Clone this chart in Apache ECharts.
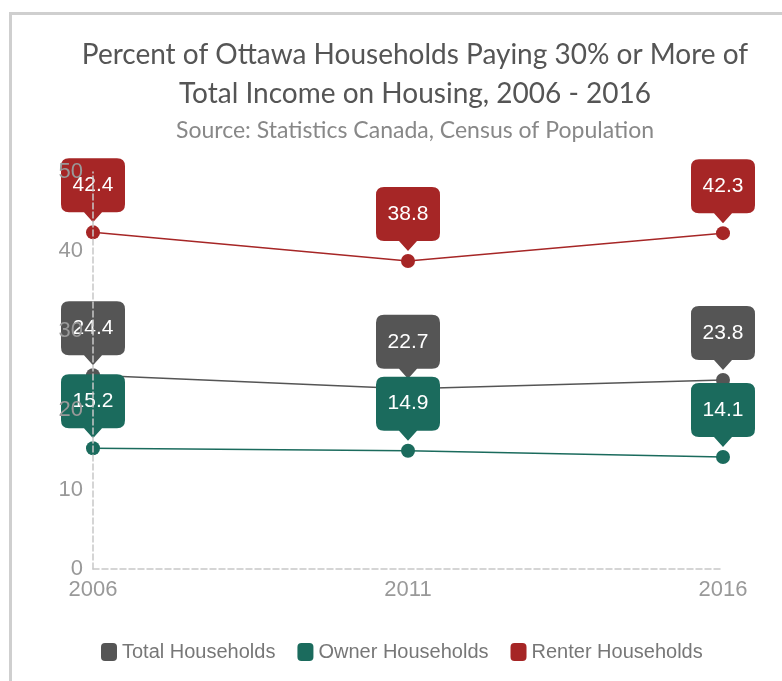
<!DOCTYPE html>
<html>
<head>
<meta charset="utf-8">
<script src="https://cdn.jsdelivr.net/npm/echarts@6/dist/echarts.min.js"></script>
<style>
html,body{margin:0;padding:0;background:#fff;overflow:hidden;width:782px;height:681px;}
#chart{position:absolute;left:9px;top:12px;width:806px;height:700px;border:3px solid #cfcfcf;background:#fff;}
</style>
</head>
<body>
<div id="chart"></div>
<script>
var years = ['2006', '2011', '2016'];
var totalHouseholds = [24.4, 22.7, 23.8];
var ownerHouseholds = [15.2, 14.9, 14.1];
var renterHouseholds = [42.4, 38.8, 42.3];
var seriesNames = ['Total Households', 'Owner Households', 'Renter Households'];
var seriesColors = ['#555555', '#1b6b5d', '#a62626'];
var yTicks = {min: 0, max: 50, interval: 10};

var calloutPath = 'path://M8,0 H56 Q64,0 64,8 V46 Q64,54 56,54 H41 L32,64 L23,54 H8 Q0,54 0,46 V8 Q0,0 8,0 Z';
var dataSets = [totalHouseholds, ownerHouseholds, renterHouseholds];

var series = [];
dataSets.forEach(function (d, i) {
  series.push({
    name: seriesNames[i], type: 'line', data: d, z: 2,
    symbol: 'circle', symbolSize: 14,
    itemStyle: {color: seriesColors[i]},
    lineStyle: {color: seriesColors[i], width: 1.5},
    label: {show: false}, emphasis: {disabled: true}
  });
});
dataSets.forEach(function (d, i) {
  series.push({
    name: seriesNames[i], type: 'scatter', data: d, z: 3 + i,
    symbol: calloutPath, symbolSize: [64, 64], symbolOffset: [0, -42],
    itemStyle: {color: seriesColors[i], opacity: 1},
    label: {
      show: true, position: 'inside', offset: [0, -5],
      color: '#fff', fontFamily: 'Liberation Sans, Arial, sans-serif', fontSize: 21,
      formatter: function (p) { return p.value.toFixed(1); }
    },
    emphasis: {disabled: true}, silent: true
  });
});

var chart = echarts.init(document.getElementById('chart'));
chart.setOption({
  animation: false,
  backgroundColor: '#fff',
  title: {
    text: 'Percent of Ottawa Households Paying 30% or More of\nTotal Income on Housing, 2006 - 2016',
    subtext: 'Source: Statistics Canada, Census of Population',
    left: 'center', top: 15, itemGap: 6,
    textStyle: {fontFamily: 'Lato', fontWeight: 'normal', fontSize: 28, lineHeight: 39, color: '#555'},
    subtextStyle: {fontFamily: 'Lato', fontSize: 23, color: '#888'}
  },
  legend: {
    data: seriesNames, left: 84, top: 622,
    icon: 'roundRect', itemWidth: 16, itemHeight: 18, itemGap: 22, itemTextGap: 10,
    textStyle: {fontFamily: 'Liberation Sans, Arial, sans-serif', fontSize: 20, color: '#777'}
  },
  grid: {left: 81, right: 95, top: 157, bottom: 146, containLabel: false},
  xAxis: {
    type: 'category', data: years, boundaryGap: false,
    axisLine: {lineStyle: {color: '#c8c8c8', type: 'dashed', width: 1.5}},
    axisTick: {show: false},
    axisLabel: {color: '#999', fontFamily: 'Liberation Sans, Arial, sans-serif', fontSize: 22, margin: 10}
  },
  yAxis: {
    type: 'value', min: yTicks.min, max: yTicks.max, interval: yTicks.interval, z: 10,
    axisLine: {show: true, lineStyle: {color: '#c8c8c8', type: 'dashed', width: 1.5}},
    axisTick: {show: false}, splitLine: {show: false},
    axisLabel: {color: '#999', fontFamily: 'Liberation Sans, Arial, sans-serif', fontSize: 22, margin: 10}
  },
  series: series
});
</script>
</body>
</html>
